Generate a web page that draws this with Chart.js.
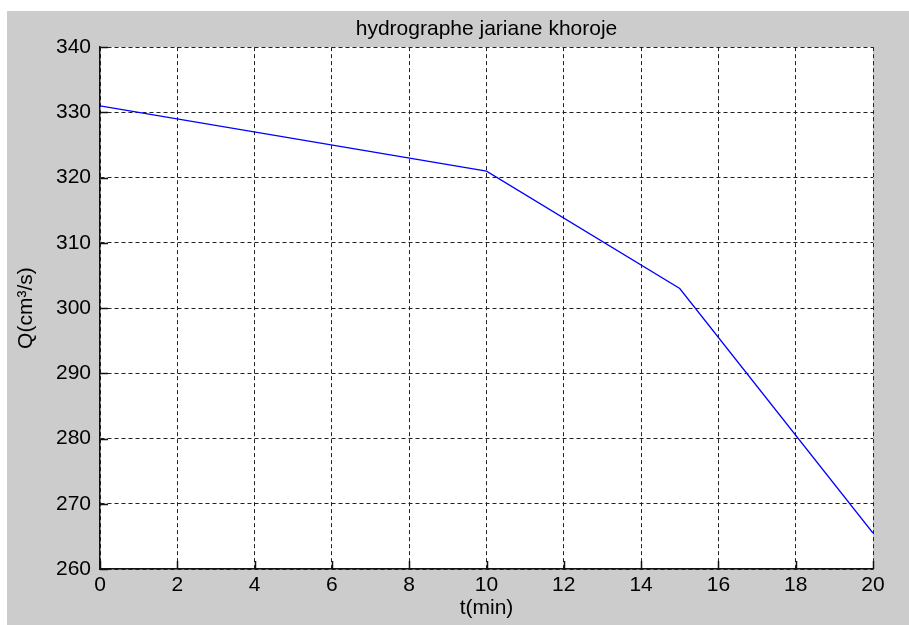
<!DOCTYPE html>
<html>
<head>
<meta charset="utf-8">
<title>hydrographe jariane khoroje</title>
<script src="https://cdn.jsdelivr.net/npm/chart.js@4/dist/chart.umd.min.js"></script>
<style>
  html, body { margin: 0; padding: 0; background: #fff; }
  #fig { position: absolute; left: 7px; top: 11px; width: 902px; height: 614px; background: #cccccc; }
</style>
</head>
<body>
<div id="fig"><canvas id="hydroChart" width="902" height="614"></canvas></div>
<script>
// t(min) / Q(cm3/s) points of the outflow hydrograph
var tMin = [0, 10, 15, 20];
var qOut = [331, 321, 303, 265.5];

var xTicks = [0, 2, 4, 6, 8, 10, 12, 14, 16, 18, 20];
var yTicks = [260, 270, 280, 290, 300, 310, 320, 330, 340];

var FONT = "'Liberation Sans', Arial, sans-serif";

var points = tMin.map(function(t, i) { return { x: t, y: qOut[i] }; });

// white axes background
var plotBg = {
    id: 'plotBg',
    beforeDraw: function(chart) {
        var a = chart.chartArea, ctx = chart.ctx;
        ctx.save();
        ctx.fillStyle = '#ffffff';
        ctx.fillRect(a.left, a.top, a.right - a.left, a.bottom - a.top);
        ctx.restore();
    }
};

// short tick marks pointing into the axes
var innerTicks = {
    id: 'innerTicks',
    afterDatasetsDraw: function(chart) {
        var ctx = chart.ctx, a = chart.chartArea;
        var x = chart.scales.x, y = chart.scales.y;
        ctx.save();
        ctx.strokeStyle = '#111';
        ctx.lineWidth = 1.5;
        ctx.beginPath();
        x.ticks.forEach(function(t) {
            var px = Math.round(x.getPixelForValue(t.value)) + 0.5;
            ctx.moveTo(px, a.bottom);
            ctx.lineTo(px, a.bottom - 8);
        });
        y.ticks.forEach(function(t) {
            var py = Math.round(y.getPixelForValue(t.value)) + 0.5;
            ctx.moveTo(a.left, py);
            ctx.lineTo(a.left + 8, py);
        });
        ctx.stroke();
        ctx.restore();
    }
};

var ctx = document.getElementById('hydroChart').getContext('2d');
var myChart = new Chart(ctx, {
    type: 'line',
    data: {
        datasets: [{
            data: points,
            borderColor: '#0000ff',
            borderWidth: 1.3,
            pointRadius: 0,
            fill: false,
            tension: 0
        }]
    },
    options: {
        responsive: false,
        animation: false,
        layout: { padding: { left: 0, top: 0, right: 36, bottom: 0 } },
        plugins: {
            legend: { display: false },
            tooltip: { enabled: false },
            title: {
                display: true,
                fullSize: false,
                text: 'hydrographe jariane khoroje',
                color: '#000',
                font: { family: FONT, size: 21, weight: 'normal', lineHeight: 1.15 },
                padding: { top: 6, bottom: 6 }
            }
        },
        scales: {
            x: {
                type: 'linear',
                min: 0,
                max: 20,
                afterBuildTicks: function(scale) {
                    scale.ticks = xTicks.map(function(v) { return { value: v }; });
                },
                afterFit: function(scale) { scale.height = 56; },
                ticks: {
                    color: '#000',
                    padding: 4,
                    maxRotation: 0,
                    font: { family: FONT, size: 21 }
                },
                grid: { color: '#222', lineWidth: 1, drawTicks: false },
                border: { display: true, color: '#111', width: 1.5, dash: [4, 3] },
                title: {
                    display: true,
                    text: 't(min)',
                    color: '#000',
                    font: { family: FONT, size: 21, lineHeight: 1.2 },
                    padding: { top: 0, bottom: 4 }
                }
            },
            y: {
                type: 'linear',
                min: 260,
                max: 340,
                afterBuildTicks: function(scale) {
                    scale.ticks = yTicks.map(function(v) { return { value: v }; });
                },
                afterFit: function(scale) { scale.width = 93; },
                ticks: {
                    color: '#000',
                    padding: 9,
                    font: { family: FONT, size: 21 }
                },
                grid: { color: '#222', lineWidth: 1, drawTicks: false },
                border: { display: true, color: '#111', width: 1.5, dash: [4, 3] },
                title: {
                    display: true,
                    text: 'Q(cm³/s)',
                    color: '#000',
                    font: { family: FONT, size: 21, lineHeight: 1.2 },
                    padding: { top: 7, bottom: 0 }
                }
            }
        }
    },
    plugins: [plotBg, innerTicks]
});
</script>
</body>
</html>
